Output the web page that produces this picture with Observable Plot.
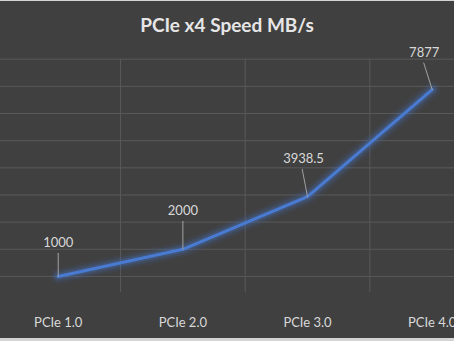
<!DOCTYPE html>
<html><head><meta charset="utf-8">
<script src="https://cdn.jsdelivr.net/npm/d3@7"></script>
<script src="https://cdn.jsdelivr.net/npm/@observablehq/plot@0.6"></script>
<style>
html,body{margin:0;padding:0;background:#d4d4d4;}
#chart{position:absolute;left:0;top:1px;width:454px;height:337px;background:#404040;overflow:hidden;}
#title{height:35px;padding-top:14px;font-family:Lato,sans-serif;font-weight:bold;font-size:19px;line-height:20px;color:#e6e6e6;text-align:center;}
</style></head><body>
<div id="chart"><div id="title">PCIe x4 Speed MB/s</div></div>
<script>
const categories = ["PCIe 1.0", "PCIe 2.0", "PCIe 3.0", "PCIe 4.0"];
const speeds = [1000, 2000, 3938.5, 7877];
const valueLabels = ["1000", "2000", "3938.5", "7877"];
const yGrid = [1000, 2000, 3000, 4000, 5000, 6000, 7000, 8000, 9000];

const data = categories.map((c, i) => ({i, cat: c, v: speeds[i], label: valueLabels[i]}));
const boundaries = d3.range(categories.length + 1).map(k => k - 0.5);

// label placement (pixel offsets from each point)
const layout = [
  {dx: 0, dy: -33.5, len: 23, rot: 0},
  {dx: 0, dy: -38, len: 27.6, rot: 0},
  {dx: -4, dy: -37.5, len: 27.9, rot: -11},
  {dx: -8, dy: -37, len: 27.9, rot: -17.5}
];

const blue = "#4472C4";
const marks = [
  Plot.ruleY(yGrid, {stroke: "#595959", strokeWidth: 1}),
  Plot.ruleX(boundaries, {y1: 9000, y2: 400, stroke: "#595959", strokeWidth: 1}),
  Plot.line(data, {x: "i", y: "v", stroke: blue, strokeWidth: 16, strokeOpacity: 0.08, strokeLinejoin: "round", strokeLinecap: "round"}),
  Plot.line(data, {x: "i", y: "v", stroke: blue, strokeWidth: 11, strokeOpacity: 0.14, strokeLinejoin: "round", strokeLinecap: "round"}),
  Plot.line(data, {x: "i", y: "v", stroke: blue, strokeWidth: 7, strokeOpacity: 0.25, strokeLinejoin: "round", strokeLinecap: "round"}),
  Plot.line(data, {x: "i", y: "v", stroke: "#4a7bd2", strokeWidth: 3, strokeLinejoin: "round"})
];
layout.forEach((L, k) => {
  marks.push(Plot.vector(data, {filter: d => d.i === k, x: "i", y: "v", length: L.len, rotate: L.rot, anchor: "start", r: 0, stroke: "#a0a0a0", strokeWidth: 1}));
  marks.push(Plot.text(data, {filter: d => d.i === k, x: "i", y: "v", text: "label", dx: L.dx, dy: L.dy, fill: "#d9d9d9", fontSize: 13}));
});

const plot = Plot.plot({
  width: 454,
  height: 288,
  marginLeft: -4.6,
  marginRight: -40,
  marginTop: 8.7,
  marginBottom: 34.9,
  style: {background: "transparent", color: "#d9d9d9", fontFamily: "Lato, sans-serif", fontSize: "13px", overflow: "visible"},
  x: {domain: [-0.5, 3.5], ticks: 4, tickFormat: i => categories[i], tickSize: 0, tickPadding: 14, label: null},
  y: {domain: [0, 9000], axis: null},
  marks
});
document.getElementById("chart").appendChild(plot);
</script>
</body></html>
